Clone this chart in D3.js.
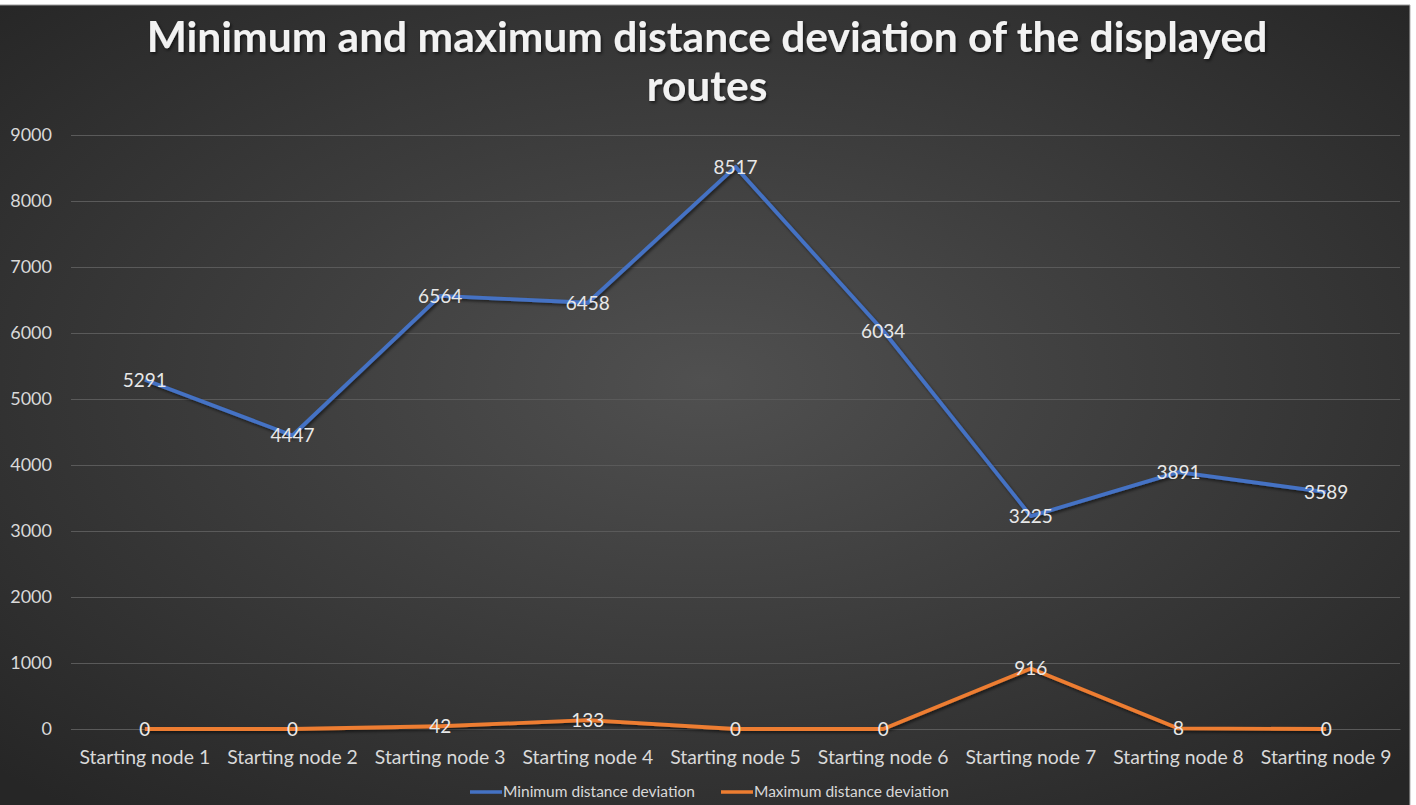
<!DOCTYPE html>
<html><head><meta charset="utf-8">
<script src="https://cdn.jsdelivr.net/npm/d3@7"></script>
<style>
html,body{margin:0;padding:0;background:#ffffff;overflow:hidden;}
svg{display:block;}
</style></head>
<body>
<script>
const categories = ["Starting node 1","Starting node 2","Starting node 3","Starting node 4","Starting node 5","Starting node 6","Starting node 7","Starting node 8","Starting node 9"];
const minDeviation = [5291, 4447, 6564, 6458, 8517, 6034, 3225, 3891, 3589];
const maxDeviation = [0, 0, 42, 133, 0, 0, 916, 8, 0];
const yTicks = [0,1000,2000,3000,4000,5000,6000,7000,8000,9000];
const seriesNames = ["Minimum distance deviation","Maximum distance deviation"];
const seriesColors = ["#4472C4","#ED7D31"];
const titleLines = ["Minimum and maximum distance deviation of the displayed","routes"];

const W = 1416, H = 805;
const svg = d3.select("body").append("svg").attr("width", W).attr("height", H);
const defs = svg.append("defs");
const grad = defs.append("radialGradient").attr("id","bg")
  .attr("cx","50%").attr("cy","47%").attr("r","70%");
grad.append("stop").attr("offset","0%").attr("stop-color","#505050");
grad.append("stop").attr("offset","100%").attr("stop-color","#262626");
const sh = defs.append("filter").attr("id","shadow").attr("x","-5%").attr("y","-20%").attr("width","110%").attr("height","140%");
sh.append("feDropShadow").attr("dx",1.5).attr("dy",2).attr("stdDeviation",1.5).attr("flood-color","#000").attr("flood-opacity",0.55);

// chart area
svg.append("rect").attr("x",0).attr("y",5).attr("width",1410).attr("height",H-5).attr("fill","url(#bg)");
svg.append("line").attr("x1",0).attr("x2",1410).attr("y1",5).attr("y2",5).attr("stroke","#9a9a9a").attr("stroke-width",1);
svg.append("line").attr("x1",1410).attr("x2",1410).attr("y1",5).attr("y2",H).attr("stroke","#b0b0b0").attr("stroke-width",1);

const plotL = 71, plotR = 1400, plotT = 135, plotB = 729;
const x = d3.scaleBand().domain(categories).range([plotL, plotR]).padding(0);
const y = d3.scaleLinear().domain([0, 9000]).range([plotB, plotT]);
const cx = c => x(c) + x.bandwidth()/2;

// title
const title = svg.append("text").attr("text-anchor","middle")
  .attr("font-family","Lato, 'Open Sans', sans-serif").attr("font-weight","bold")
  .attr("font-size",42.5).attr("fill","#f2f2f2").attr("filter","url(#shadow)");
titleLines.forEach((t,i)=>{
  title.append("tspan").attr("x",707).attr("y",52 + i*49).text(t);
});

// gridlines + y axis
const yAxis = d3.axisLeft(y).tickValues(yTicks).tickSize(-(plotR-plotL)).tickPadding(20).tickFormat(d3.format("d"));
const gy = svg.append("g").attr("transform",`translate(${plotL},0)`).call(yAxis);
gy.select(".domain").remove();
gy.selectAll(".tick line").attr("stroke","#5a5a5a").attr("stroke-width",1);
gy.selectAll(".tick text").attr("fill","#d9d9d9").attr("font-family","Lato, sans-serif").attr("font-size",18)
  .attr("x",-19).attr("text-anchor","end");

// x axis
const xAxis = d3.axisBottom(x).tickSize(0).tickPadding(21);
const gx = svg.append("g").attr("transform",`translate(0,${plotB})`).call(xAxis);
gx.select(".domain").attr("stroke","#5a5a5a");
gx.selectAll(".tick text").attr("fill","#d9d9d9").attr("font-family","Lato, sans-serif").attr("font-size",19.4);

// lines
const line = d3.line().x((d,i)=>cx(categories[i])).y(d=>y(d));
[minDeviation, maxDeviation].forEach((s,k)=>{
  svg.append("path").datum(s).attr("d",line).attr("fill","none")
    .attr("stroke",seriesColors[k]).attr("stroke-width",3.8).attr("stroke-linejoin","round")
    .attr("filter","url(#shadow)");
});
// data labels
[minDeviation, maxDeviation].forEach((s,k)=>{
  svg.append("g").selectAll("text").data(s).join("text")
    .attr("x",(d,i)=>cx(categories[i])).attr("y",d=>y(d)).attr("dy","0.36em")
    .attr("text-anchor","middle").attr("fill","#e8e8e8")
    .attr("font-family","Lato, sans-serif").attr("font-size",19)
    .text(d=>d);
});

// legend
const legend = svg.append("g").attr("font-family","Lato, sans-serif").attr("font-size",15.5).attr("fill","#d9d9d9");
const legX = [470, 721];
seriesNames.forEach((n,k)=>{
  legend.append("line").attr("x1",legX[k]).attr("x2",legX[k]+32).attr("y1",792).attr("y2",792)
    .attr("stroke",seriesColors[k]).attr("stroke-width",3.5);
  legend.append("text").attr("x",legX[k]+33).attr("y",792).attr("dy","0.35em").text(n);
});
</script>
</body></html>
